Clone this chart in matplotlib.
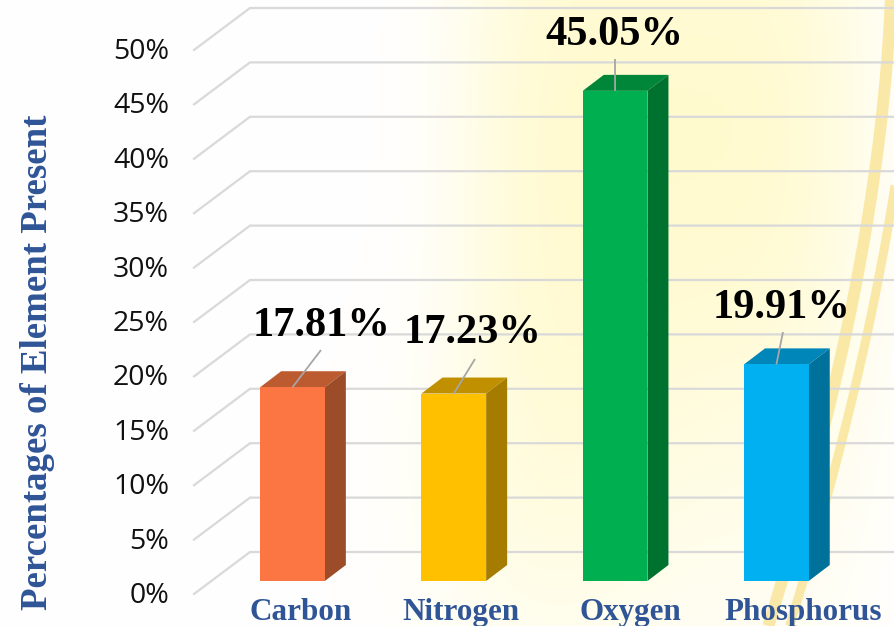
import numpy as np
import matplotlib
matplotlib.use("Agg")
import matplotlib.pyplot as plt
from matplotlib.patches import Polygon

W, H = 895, 626

elements = ["Carbon", "Nitrogen", "Oxygen", "Phosphorus"]
percentages = [17.81, 17.23, 45.05, 19.91]
tick_values = [0, 5, 10, 15, 20, 25, 30, 35, 40, 45, 50]

front_colors = ["#FB7642", "#FFC000", "#00B050", "#00B0F0"]
top_colors = ["#BC5A30", "#C09000", "#008638", "#0086B8"]
side_colors = ["#9C4C28", "#A67C00", "#00722F", "#00719B"]

# scale of the chart, in pixels
x0_px, x_unit = 292.5, 161.3
y0_px, y_unit = 581, 10.88

def px_x(p):
    return (p - x0_px) / x_unit

def px_dy(p):
    return p / y_unit

fig = plt.figure(figsize=(W / 100, H / 100), dpi=100)
ax = fig.add_axes([0, 0, 1, 1])
ax.set_xlim(px_x(0), px_x(W))
ax.set_ylim(-px_dy(H - y0_px), px_dy(y0_px))
ax.axis("off")

# soft yellow glow behind the plot
yy, xx = np.mgrid[0:H, 0:W]
glow = (np.exp(-(np.abs(xx - 665) / 205.0) ** 4 - ((yy - 130) / 420.0) ** 2)
        + 0.25 * np.exp(-((xx - 520) / 130.0) ** 2 - ((yy - 480) / 200.0) ** 2))
glow = np.clip(glow, 0, 1)[..., None]
bg = (1 - glow) * np.array([1.0, 1.0, 1.0]) + glow * np.array([1.0, 0.982, 0.81])
ax.imshow(bg, extent=[px_x(0), px_x(W), -px_dy(H - y0_px), px_dy(y0_px)],
          aspect="auto", zorder=0, interpolation="bilinear")

# pale curved streaks on the right
streak_y = np.linspace(0, H, 200)
band1 = np.polyfit([0, 150, 217, 383, 580, 626], [891, 877, 868, 836, 780, 770], 3)
band2 = np.polyfit([217, 330, 383, 580, 626], [890, 867, 857, 803, 790], 3)
for band, lw in [(band1, 8.5), (band2, 6.5)]:
    ax.plot(px_x(np.polyval(band, streak_y)), px_dy(y0_px - streak_y), color="#FAE59B",
            lw=lw, alpha=0.85, solid_capstyle="butt", zorder=1)

# gridlines run along the floor side wall and then across the back
wall_front, wall_back = px_x(194), px_x(250)
for v in tick_values:
    ax.plot([wall_front, wall_back, px_x(W + 5)],
            [v - px_dy(13), v + px_dy(29), v + px_dy(29)],
            color="#D9D9D9", lw=1.6, solid_joinstyle="miter", zorder=2)
    ax.text(px_x(169), v - px_dy(15), f"{v}%", ha="right", va="center",
            family="Open Sans", fontsize=20.5, color="#111111", zorder=5)

# 3d looking columns
positions = np.arange(len(elements))
bar_w = 64.7 / x_unit
dx, dy = px_x(21 + x0_px), px_dy(16)
ax.bar(positions, percentages, width=bar_w, color=front_colors, zorder=4)
for i, (pos, val) in enumerate(zip(positions, percentages)):
    l, r = pos - bar_w / 2, pos + bar_w / 2
    ax.add_patch(Polygon([(l, val), (r, val), (r + dx, val + dy), (l + dx, val + dy)],
                         closed=True, fc=top_colors[i], ec="none", zorder=3.5))
    ax.add_patch(Polygon([(r, 0), (r + dx, dy), (r + dx, val + dy), (r, val)],
                         closed=True, fc=side_colors[i], ec="none", zorder=3.5))

# value labels with short leader lines
label_x = [321.7, 472.7, 614, 782]
label_base = [336, 342.7, 44.7, 318]
leader_end = [(321, 350), (475, 359), (615, 59), (783, 332)]
for i, val in enumerate(percentages):
    ax.plot([positions[i], px_x(leader_end[i][0])], [val, px_dy(y0_px - leader_end[i][1])],
            color="#A6A6A6", lw=1.3, zorder=5, solid_capstyle="butt")
    ax.text(px_x(label_x[i]), px_dy(y0_px - label_base[i]), f"{val:.2f}%", ha="center",
            va="baseline", family="Liberation Serif", weight="bold", fontsize=30.5,
            color="black", zorder=6)

# category names
name_x = [301, 461, 630, 803]
for name, x in zip(elements, name_x):
    ax.text(px_x(x), px_dy(y0_px - 620), name, ha="center", va="baseline",
            family="Liberation Serif", weight="bold", fontsize=22.4, color="#2F5597", zorder=6)

ax.text(px_x(38), px_dy(y0_px - 362), "Percentages of Element Present", rotation=90,
        ha="center", va="center", family="Liberation Serif", weight="bold",
        fontsize=26.6, color="#2F5597", zorder=6)

fig.savefig("out.png", dpi=100)
